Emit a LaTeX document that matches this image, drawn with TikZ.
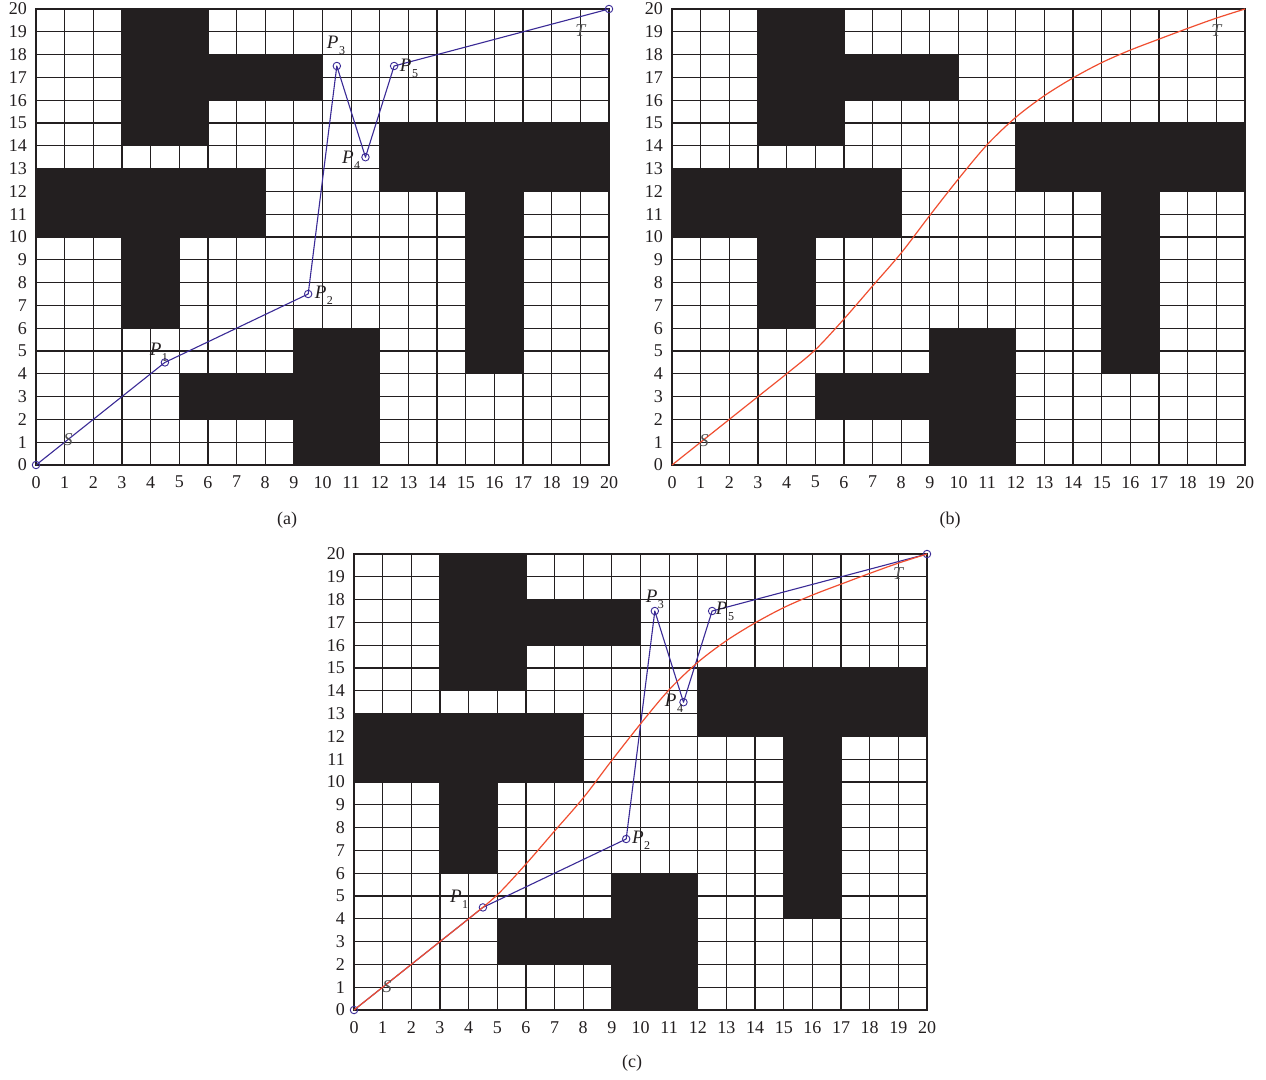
\documentclass[tikz,border=0pt]{standalone}
\usepackage{fontspec}
\setmainfont{Liberation Serif}
\definecolor{ink}{RGB}{35,31,32}
\definecolor{pblue}{RGB}{58,42,150}
\definecolor{pred}{RGB}{240,78,48}
\definecolor{lgray}{RGB}{80,80,80}
\newcommand\Plab[1]{\textit{P}\kern0.5pt\raisebox{-0.32em}{\fontsize{12}{13}\selectfont #1}}
\tikzset{
  gridline/.style={ink, line width=1.25pt},
  tick/.style={inner sep=0pt, font=\fontsize{18}{21}\selectfont, text=ink},
  lab/.style={inner sep=0pt, font=\fontsize{19}{22}\selectfont, text=ink},
  stlab/.style={inner sep=0pt, font=\fontsize{18}{21}\selectfont\itshape, text=lgray},
  waypt/.style={circle, draw=pblue, line width=0.9pt, inner sep=0pt, minimum size=7.5pt},
  bluepath/.style={pblue, line width=1.1pt, line join=round},
  redpath/.style={pred, line width=1.2pt},
  captext/.style={inner sep=0pt, font=\fontsize{18}{21}\selectfont, text=ink},
  obst/.style={fill=ink}
}
\newcommand\drawpanel[1]{%
  \fill[obst] (3,14) rectangle (6,20);
  \fill[obst] (6,16) rectangle (10,18);
  \fill[obst] (0,10) rectangle (8,13);
  \fill[obst] (3,6) rectangle (5,10);
  \fill[obst] (5,2) rectangle (9,4);
  \fill[obst] (9,0) rectangle (12,6);
  \fill[obst] (12,12) rectangle (20,15);
  \fill[obst] (15,4) rectangle (17,12);
  \foreach \i in {0,...,20}{
    \draw[gridline] (\i,0) -- (\i,20);
    \draw[gridline] (0,\i) -- (20,\i);
  }
  \draw[gridline] (0,0) rectangle (20,20);
  \foreach \i in {0,...,20}{
    \node[tick,anchor=east,xshift=-9pt] (#1y\i) at (0,\i) {\i};
    \node[tick,anchor=north,yshift=-11pt] (#1x\i) at (\i,0) {\i};
  }
}
\newcommand\waypoints[1]{%
  \node[waypt] (#1s) at (0,0) {};
  \node[waypt] (#1p1) at (4.5,4.5) {};
  \node[waypt] (#1p2) at (9.5,7.5) {};
  \node[waypt] (#1p3) at (10.5,17.5) {};
  \node[waypt] (#1p4) at (11.5,13.5) {};
  \node[waypt] (#1p5) at (12.5,17.5) {};
  \node[waypt] (#1t) at (20,20) {};
  \draw[bluepath] (#1s.center) -- (#1p1.center) -- (#1p2.center) -- (#1p3.center)
     -- (#1p4.center) -- (#1p5.center) -- (#1t.center);
}
\newcommand\redcurve{%
  \draw[redpath] plot[smooth] coordinates {(0,0) (1,1) (2,2) (3,3) (4,4) (5,5.05)
    (6,6.4) (7,7.85) (8,9.3) (9,10.95) (10,12.55) (11,14.05) (12,15.25) (13,16.2)
    (14,16.98) (15,17.65) (16,18.2) (17,18.68) (18,19.15) (19,19.6) (20,20)};
}
\begin{document}
\begin{tikzpicture}
\useasboundingbox[fill=white] (0pt,0pt) rectangle (1266pt,-1079pt);
% panel (a)
\begin{scope}[shift={(36pt,-465pt)}, x=28.65pt, y=22.8pt]
  \drawpanel{a}
  \waypoints{a}
  \node[stlab] (aS) at (1.12,1.1) {S};
  \node[stlab] (aT) at (19,19.05) {T};
  \node[lab] (aP1) at (4.29,4.96) {\Plab{1}};
  \node[lab] (aP2) at (10.05,7.45) {\Plab{2}};
  \node[lab] (aP3) at (10.47,18.42) {\Plab{3}};
  \node[lab] (aP4) at (11.0,13.38) {\Plab{4}};
  \node[lab] (aP5) at (13.02,17.41) {\Plab{5}};
\end{scope}
\node[captext] (capa) at (287pt,-520pt) {(a)};
% panel (b)
\begin{scope}[shift={(672pt,-465pt)}, x=28.65pt, y=22.8pt]
  \drawpanel{b}
  \redcurve
  \node[stlab] (bS) at (1.12,1.05) {S};
  \node[stlab] (bT) at (19,19.05) {T};
\end{scope}
\node[captext] (capb) at (950pt,-520pt) {(b)};
% panel (c)
\begin{scope}[shift={(354pt,-1010pt)}, x=28.65pt, y=22.8pt]
  \drawpanel{c}
  \waypoints{c}
  \redcurve
  \node[stlab] (cS) at (1.16,1.02) {S};
  \node[stlab] (cT) at (18.99,19.12) {T};
  \node[lab] (cP1) at (3.67,4.87) {\Plab{1}};
  \node[lab] (cP2) at (10.02,7.46) {\Plab{2}};
  \node[lab] (cP3) at (10.5,18.02) {\Plab{3}};
  \node[lab] (cP4) at (11.17,13.46) {\Plab{4}};
  \node[lab] (cP5) at (12.95,17.5) {\Plab{5}};
\end{scope}
\node[captext] (capc) at (632pt,-1063pt) {(c)};
\end{tikzpicture}
\end{document}
